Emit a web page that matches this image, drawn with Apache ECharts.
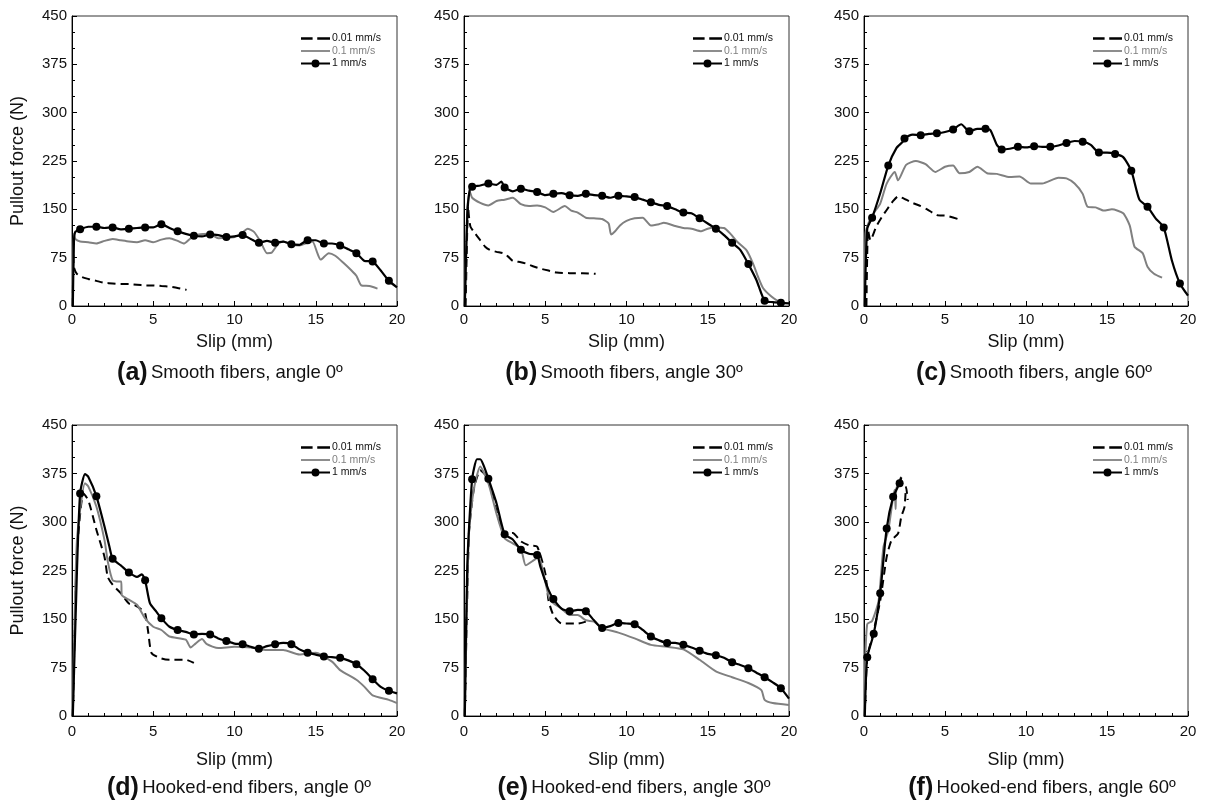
<!DOCTYPE html>
<html>
<head>
<meta charset="utf-8">
<script src="https://cdn.jsdelivr.net/npm/echarts@6/dist/echarts.min.js"></script>
<style>
html,body{margin:0;padding:0;background:#fff;}
#chart{width:1211px;height:812px;}
</style>
</head>
<body>
<div id="chart"></div>
<script>
// ---------------- DATA ----------------
const seriesNames = ['0.01 mm/s', '0.1 mm/s', '1 mm/s'];
const xTicks = [0, 5, 10, 15, 20];
const yTicks = [0, 75, 150, 225, 300, 375, 450];
const captionsBold = ['(a)', '(b)', '(c)', '(d)', '(e)', '(f)'];
const captionsText = ['Smooth fibers, angle 0º', 'Smooth fibers, angle 30º', 'Smooth fibers, angle 60º',
  'Hooked-end fibers, angle 0º', 'Hooked-end fibers, angle 30º', 'Hooked-end fibers, angle 60º'];

// (a) Smooth fibers, angle 0
const a_001 = [[0.05,0],[0.08,80],[0.12,60],[0.3,50],[0.6,45],[1,42],[1.5,39],[2,36],[2.5,35],[3,34],[3.5,34],[4,33],[4.5,32],[5,32],[5.5,31],[6,30],[6.5,28],[7.05,25]];
const a_01 = [[0.05,0],[0.1,112],[0.2,104],[0.5,100],[1,99],[1.5,97],[2,101],[2.5,104],[3,102],[3.5,100],[4,99],[4.5,102],[5,99],[5.5,103],[6,105],[6.5,101],[6.9,97],[7.3,105],[7.8,111],[8.5,112],[9,105],[9.5,106],[10,107],[10.5,114],[10.8,120],[11.2,115],[11.6,100],[12,82],[12.3,83],[12.7,97],[13,100],[13.5,95],[14,94],[14.5,98],[14.8,100],[15.1,82],[15.3,72],[15.8,82],[16.2,78],[16.7,67],[17.2,55],[17.5,47],[17.8,32],[18.3,31],[18.8,27]];
const a_1 = [[0.05,0],[0.12,100],[0.2,115],[0.5,119],[1,123],[1.5,123],[2,121],[2.5,122],[3,119],[3.5,120],[4,121],[4.5,122],[5,122],[5.5,127],[6,121],[6.5,116],[7,112],[7.5,109],[8,108],[8.5,111],[9,110],[9.5,107],[10,108],[10.5,110],[11,104],[11.5,98],[12,101],[12.5,98],[13,100],[13.5,96],[14,95],[14.5,102],[15,102],[15.5,97],[16,97],[16.5,94],[17,88],[17.5,82],[18,70],[18.5,69],[19,55],[19.5,39],[20,29]];
const a_marks = [0.5,1.5,2.5,3.5,4.5,5.5,6.5,7.5,8.5,9.5,10.5,11.5,12.5,13.5,14.5,15.5,16.5,17.5,18.5,19.5];

// (b) Smooth fibers, angle 30
const b_001 = [[0.1,0],[0.2,120],[0.25,155],[0.3,140],[0.4,123],[0.7,112],[1,102],[1.3,92],[1.6,87],[2,84],[2.4,82],[2.7,77],[3,70],[3.5,68],[3.8,66],[4.2,62],[4.7,58],[5.2,55],[5.7,52],[6.5,51],[7.3,51],[8.1,50]];
const b_01 = [[0.05,0],[0.2,150],[0.35,178],[0.5,168],[1,160],[1.5,156],[2,163],[2.5,165],[3,168],[3.5,158],[4,155],[4.5,156],[5,153],[5.5,146],[6.2,155],[6.6,148],[7,145],[7.5,137],[8,136],[8.5,135],[8.9,128],[9.05,111],[9.3,116],[9.6,125],[10,132],[10.5,136],[11,137],[11.5,125],[12,127],[12.3,129],[13,124],[13.5,121],[14,120],[14.6,116],[15,120],[15.4,122],[16,121],[16.4,112],[16.8,100],[17.4,86],[17.8,65],[18.1,45],[18.4,28],[18.9,15],[19.3,8],[19.6,5]];
const b_1 = [[0.05,0],[0.2,140],[0.35,180],[0.5,185],[1,187],[1.5,190],[2,188],[2.3,193],[2.5,184],[3,178],[3.5,182],[4,179],[4.5,177],[5,172],[5.5,174],[6,175],[6.5,172],[7,171],[7.5,174],[8,172],[8.5,171],[9,168],[9.5,171],[10,170],[10.5,169],[11,165],[11.5,161],[12,157],[12.5,155],[13,150],[13.5,145],[14,144],[14.5,136],[15,128],[15.5,120],[16,110],[16.5,98],[17,87],[17.5,65],[18,40],[18.5,8],[19,6],[19.5,5],[20,4]];
const b_marks = [0.5,1.5,2.5,3.5,4.5,5.5,6.5,7.5,8.5,9.5,10.5,11.5,12.5,13.5,14.5,15.5,16.5,17.5,18.5,19.5];

// (c) Smooth fibers, angle 60
const c_001 = [[0.15,0],[0.25,118],[0.4,102],[0.75,123],[1.1,138],[1.4,149],[1.8,163],[2.1,170],[2.6,165],[3,160],[3.5,155],[3.9,150],[4.5,141],[5.1,140],[5.8,135]];
const c_01 = [[0.05,0],[0.1,113],[0.3,130],[0.6,144],[1,159],[1.4,190],[1.9,208],[2.1,195],[2.6,219],[3.2,225],[3.8,220],[4.4,208],[5,216],[5.5,218],[5.9,206],[6.5,208],[7,216],[7.6,206],[8.2,205],[9,200],[9.6,201],[10.3,190],[11,190],[12,199],[12.5,198],[13,190],[13.5,174],[13.8,154],[14.3,153],[14.8,148],[15.3,150],[16,144],[16.4,125],[16.7,92],[17.2,82],[17.5,61],[17.9,50],[18.4,44]];
const c_1 = [[0.05,0],[0.2,120],[0.5,137],[1,175],[1.5,218],[2,245],[2.4,255],[2.5,260],[3,266],[3.5,265],[4,267],[4.5,268],[5,270],[5.5,274],[6,282],[6.5,271],[7,275],[7.5,275],[7.8,273],[8.2,250],[8.5,243],[9,244],[9.5,247],[10,246],[10.5,248],[11,247],[11.5,247],[12,249],[12.5,253],[13,256],[13.5,255],[14,250],[14.5,238],[15,238],[15.5,236],[16,231],[16.5,210],[17,165],[17.5,154],[18,136],[18.5,122],[19,71],[19.5,35],[20,16]];
const c_marks = [0.5,1.5,2.5,3.5,4.5,5.5,6.5,7.5,8.5,9.5,10.5,11.5,12.5,13.5,14.5,15.5,16.5,17.5,18.5,19.5];

// (d) Hooked-end fibers, angle 0
const d_001 = [[0.05,0],[0.3,250],[0.7,344],[1,334],[1.5,288],[2,246],[2.2,215],[2.5,203],[3,190],[3.5,174],[3.8,172],[4.2,166],[4.5,159],[4.7,128],[4.9,97],[5.5,89],[6,87],[7,87],[7.5,82]];
const d_01 = [[0.05,0],[0.3,270],[0.8,360],[1,355],[1.5,324],[2,272],[2.2,239],[2.5,210],[2.9,208],[3.03,208],[3.06,187],[3.5,180],[4,172],[4.5,151],[5,138],[5.5,133],[6,123],[7,118],[7.3,106],[7.6,112],[8,119],[8.3,111],[9,105],[10,107],[11,106],[12,102],[13,102],[14,95],[15,98],[16,84],[16.5,71],[17.5,56],[18,45],[18.5,32],[19.5,25],[20,20]];
const d_1 = [[0.05,0],[0.3,220],[0.5,344],[0.8,374],[1,370],[1.5,340],[2,293],[2.3,262],[2.5,243],[3,233],[3.5,222],[4,215],[4.3,219],[4.5,210],[4.8,174],[5.2,161],[5.5,151],[6,138],[6.5,133],[7,130],[7.5,126],[8,127],[8.5,126],[9,120],[9.5,116],[10,112],[10.5,111],[11,107],[11.5,104],[12,108],[12.5,111],[13,113],[13.5,111],[14,103],[14.5,98],[15,95],[15.5,92],[16,91],[16.5,90],[17,86],[17.5,80],[18,70],[18.5,57],[19,45],[19.5,39],[20,35]];
const d_marks = [0.5,1.5,2.5,3.5,4.5,5.5,6.5,7.5,8.5,9.5,10.5,11.5,12.5,13.5,14.5,15.5,16.5,17.5,18.5,19.5];

// (e) Hooked-end fibers, angle 30
const e_001 = [[0.05,0],[0.3,280],[0.6,350],[1,380],[1.3,373],[1.6,355],[2.1,308],[2.5,280],[3,283],[3.5,270],[4,264],[4.5,262],[5,221],[5.2,179],[5.5,156],[6,143],[7,143],[7.5,146]];
const e_01 = [[0.05,0],[0.3,282],[0.6,350],[1,386],[1.5,360],[2,313],[2.5,275],[3,267],[3.5,259],[3.8,233],[4.3,241],[4.6,246],[5,208],[5.3,179],[6,166],[6.5,156],[7,156],[7.5,148],[8,146],[8.5,136],[9.5,129],[10.5,120],[11.5,110],[12.5,107],[13.5,103],[14.5,87],[15.5,69],[16.5,60],[17.5,51],[18.3,40],[18.5,25],[19,20],[20,17]];
const e_1 = [[0.05,0],[0.2,231],[0.5,366],[0.8,397],[1,397],[1.2,388],[1.5,367],[2,329],[2.5,281],[3,273],[3.5,257],[4,251],[4.5,249],[4.7,231],[5.2,195],[5.5,181],[6,166],[6.5,162],[7,164],[7.5,162],[8,148],[8.5,136],[9,139],[9.5,144],[10,143],[10.5,142],[11,133],[11.5,123],[12,117],[12.5,113],[13,113],[13.5,110],[14,106],[14.5,101],[15,96],[15.5,94],[16,90],[16.5,83],[17,79],[17.5,74],[18,67],[18.5,60],[19,52],[19.5,43],[20,27]];
const e_marks = [0.5,1.5,2.5,3.5,4.5,5.5,6.5,7.5,8.5,9.5,10.5,11.5,12.5,13.5,14.5,15.5,16.5,17.5,18.5,19.5];

// (f) Hooked-end fibers, angle 60
const f_001 = [[0.05,0],[0.2,90],[0.6,132],[1,178],[1.4,246],[1.7,272],[2.1,282],[2.3,308],[2.5,323],[2.6,354],[2.7,334]];
const f_01 = [[0.05,0],[0.08,85],[0.2,142],[0.5,147],[0.9,178],[1.2,261],[1.5,287],[1.8,339],[1.9,350],[1.95,320],[2.0,352],[2.3,370]];
const f_1 = [[0.05,0],[0.2,91],[0.6,127],[1,190],[1.4,290],[1.8,339],[2.2,360],[2.3,369]];
const f_marks = [0.2,0.6,1,1.4,1.8,2.2];

// ---------------- LAYOUT ----------------
const panelData = [
  [a_001, a_01, a_1, a_marks], [b_001, b_01, b_1, b_marks], [c_001, c_01, c_1, c_marks],
  [d_001, d_01, d_1, d_marks], [e_001, e_01, e_1, e_marks], [f_001, f_01, f_1, f_marks]
];
const lefts = [72, 464, 864];
const widths = [325, 325, 324];
const tops = [16, 425];
const heights = [290, 291];
const captionX = [230, 624, 1034, 239, 634, 1042];
const captionY = [373, 788];
const xNameGap = [27, 35];
const xLabelMargin = [6, 8];

const FONT = "'Liberation Sans', Arial, Helvetica, sans-serif";
const TXT = '#111';
const GRAY = '#808080';

// legend icons (line-only, dashed, line with dot)
const ICON_DASH = 'path://M0,0h10v2h-10z M14,0h11v2h-11z';
const ICON_LINE = 'path://M0,0h29v1.8h-29z';
const ICON_DOT = 'path://M0,4h10.6v2h-10.6z M18.4,4h10.6v2h-10.6z M10.5,5a4,4 0 1,1 8,0a4,4 0 1,1 -8,0z';

const grids = [], xAxes = [], yAxes = [], series = [], legends = [], graphics = [];

panelData.forEach((pd, i) => {
  const row = Math.floor(i / 3), col = i % 3;
  const gl = lefts[col], gt = tops[row];
  grids.push({left: gl, top: gt, width: widths[col], height: heights[row],
    show: true, borderColor: '#333', borderWidth: 1, backgroundColor: 'transparent'});
  xAxes.push({
    type: 'value', gridIndex: i, min: xTicks[0], max: xTicks[xTicks.length - 1], interval: 5,
    axisLine: {onZero: false, lineStyle: {color: '#000', width: 1}},
    axisTick: {inside: true, length: 5, lineStyle: {color: '#000'}},
    minorTick: {show: true, splitNumber: 5, length: 3, lineStyle: {color: '#000'}},
    splitLine: {show: false},
    axisLabel: {fontSize: 15, color: TXT, fontFamily: FONT, margin: xLabelMargin[row]},
    name: 'Slip (mm)', nameLocation: 'middle', nameGap: xNameGap[row],
    nameTextStyle: {fontSize: 18, color: TXT, fontFamily: FONT}
  });
  const y = {
    type: 'value', gridIndex: i, min: yTicks[0], max: yTicks[yTicks.length - 1], interval: 75,
    axisLine: {onZero: false, lineStyle: {color: '#000', width: 1}},
    axisTick: {inside: true, length: 5, lineStyle: {color: '#000'}},
    minorTick: {show: true, splitNumber: 3, length: 3, lineStyle: {color: '#000'}},
    splitLine: {show: false},
    axisLabel: {fontSize: 15, color: TXT, fontFamily: FONT, margin: 5}
  };
  if (col === 0) {
    y.name = 'Pullout force (N)';
    y.nameLocation = 'middle';
    y.nameGap = 45;
    y.nameTextStyle = {fontSize: 18, color: TXT, fontFamily: FONT};
  }
  yAxes.push(y);

  const [s001, s01, s1, marks] = pd;
  series.push({
    name: seriesNames[0], type: 'line', xAxisIndex: i, yAxisIndex: i, data: s001,
    symbol: 'none', smooth: 0.2, lineStyle: {color: '#000', width: 2, type: [8, 5]}, itemStyle: {color: '#000'},
    animation: false, z: 2
  });
  series.push({
    name: seriesNames[1], type: 'line', xAxisIndex: i, yAxisIndex: i, data: s01,
    symbol: 'none', smooth: 0.2, lineStyle: {color: GRAY, width: 2}, itemStyle: {color: GRAY},
    animation: false, z: 3
  });
  series.push({
    name: seriesNames[2], type: 'line', xAxisIndex: i, yAxisIndex: i,
    data: s1.map(p => marks.indexOf(p[0]) >= 0 ? {value: p} : {value: p, symbol: 'none'}),
    symbol: 'circle', symbolSize: 8, showSymbol: true, smooth: 0.2,
    lineStyle: {color: '#000', width: 2.2}, itemStyle: {color: '#000'},
    animation: false, z: 4
  });

  legends.push({
    orient: 'vertical', left: gl + 229, top: gt + 17, padding: 0,
    itemWidth: 29, itemHeight: 10, itemGap: 1.5, selectedMode: false,
    textStyle: {fontSize: 10.5, fontFamily: FONT, color: TXT, padding: [0, 0, 0, -3]},
    data: [
      {name: seriesNames[0], icon: ICON_DASH, textStyle: {color: TXT}},
      {name: seriesNames[1], icon: ICON_LINE, textStyle: {color: GRAY}},
      {name: seriesNames[2], icon: ICON_DOT, textStyle: {color: TXT}}
    ]
  });

  graphics.push({
    type: 'text', x: captionX[i], y: captionY[row],
    style: {
      text: '{b|' + captionsBold[i] + '} {t|' + captionsText[i] + '}',
      align: 'center', verticalAlign: 'middle',
      rich: {
        b: {fontSize: 25, fontWeight: 'bold', fontFamily: FONT, fill: TXT},
        t: {fontSize: 18.5, fontFamily: FONT, fill: TXT}
      }
    }
  });
});

const chart = echarts.init(document.getElementById('chart'), null, {renderer: 'canvas'});
chart.setOption({
  backgroundColor: '#fff',
  animation: false,
  grid: grids, xAxis: xAxes, yAxis: yAxes, series: series, legend: legends,
  graphic: graphics
});
</script>
</body>
</html>
